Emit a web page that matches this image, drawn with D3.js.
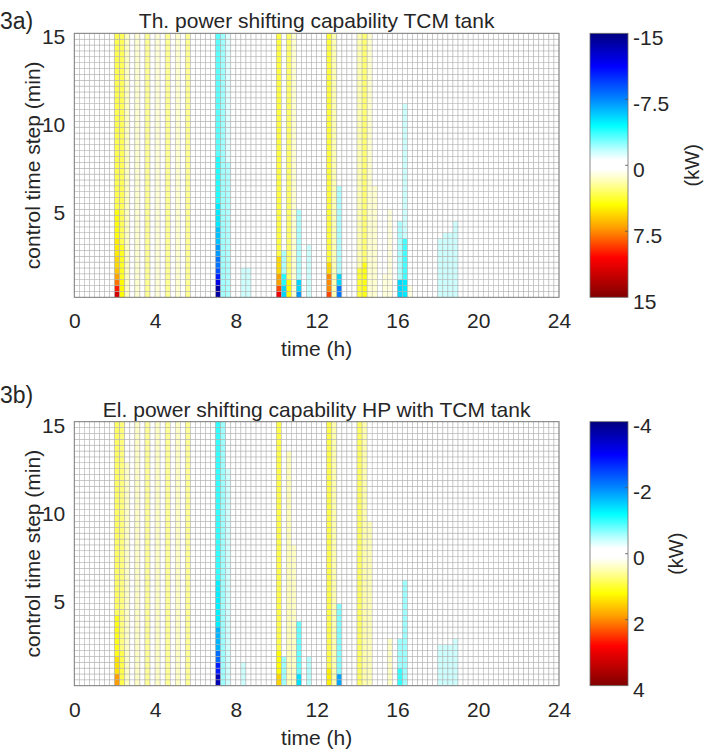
<!DOCTYPE html>
<html>
<head>
<meta charset="utf-8">
<script src="https://cdn.jsdelivr.net/npm/d3@7"></script>
<style>
  body { margin: 0; background: #fff; }
  text { font-family: "Liberation Sans", Arial, sans-serif; fill: #262626; }
</style>
</head>
<body>
<svg id="chart" width="704" height="753"></svg>
<script>
"use strict";

// axes
const xTicks = [0, 4, 8, 12, 16, 20, 24];
const yTicks = [5, 10, 15];
const stepHours = 0.25;   // one column = 15 min
const stepMin = 1 / 3;    // one row = 20 s

// 3a) thermal power shifting capability (kW)
// one entry per strip: start hour, then [from min, to min, value] pieces
const thHours = [2, 2.25, 2.5, 3, 3.5, 4, 4.5, 5, 5.5, 7, 7.25, 7.5, 8.25, 8.5,
  10, 10.25, 10.5, 10.75, 11, 11.5, 12.5, 12.75, 13, 14, 14.25, 14.5, 14.75,
  15.25, 15.5, 16, 16.25, 16.5, 18, 18.25, 18.5, 18.75];
const thSegments = [
  [[0, 0.33, 12], [0.33, 0.67, 10], [0.67, 1, 8], [1, 1.33, 7], [1.33, 1.67, 6], [1.67, 2.33, 5.5], [2.33, 3.33, 5], [3.33, 5, 4.3], [5, 15, 3.3]],
  [[0, 1, 4.6], [1, 3, 4], [3, 15, 3.2]],
  [[0, 15, 1.6]],
  [[0, 15, 1.3]],
  [[0, 15, 2.3]],
  [[0, 15, 1.2]],
  [[0, 15, 2.3]],
  [[0, 15, 1.3]],
  [[0, 15, 2.3]],
  [[0, 0.67, -14], [0.67, 1, -12], [1, 1.33, -10.5], [1.33, 1.67, -9], [1.67, 2.33, -8], [2.33, 3, -7], [3, 4, -6], [4, 5.5, -5], [5.5, 8, -4], [8, 15, -3.2]],
  [[0, 15, -2.2]],
  [[0, 7.67, -2], [7.67, 15, -1.2]],
  [[0, 1.67, -1.5]],
  [[0, 1.67, -1.5]],
  [[0, 0.33, 11], [0.33, 0.67, 9], [0.67, 1.33, 7], [1.33, 2.33, 5.5], [2.33, 15, 3.5]],
  [[0, 0.67, -5.5], [0.67, 1.33, -4], [1.33, 2.67, -2]],
  [[0, 1, 4.6], [1, 15, 2.9]],
  [[0, 15, 1.3]],
  [[0, 0.33, -7], [0.33, 1, -5.5], [1, 5, -2]],
  [[0, 3, -1.5]],
  [[0, 0.33, 9], [0.33, 1.33, 7.5], [1.33, 2, 5.5], [2, 15, 3.6]],
  [[0, 15, 1.8]],
  [[0, 0.67, -8], [0.67, 1.33, -5.5], [1.33, 6.33, -2]],
  [[0, 1.67, 3.6], [1.67, 15, 1.8]],
  [[0, 2, 4.2], [2, 15, 2.8]],
  [[0, 15, 1.3]],
  [[0, 6.33, 1.3]],
  [[0, 1.33, 1.1]],
  [[0, 5, 1.1]],
  [[0, 1, -5.5], [1, 4.33, -2]],
  [[0, 1, -5], [1, 3.33, -3.5], [3.33, 11, -1.5]],
  [[0, 0.67, 1.1]],
  [[0, 3.33, -1.5]],
  [[0, 3.67, -1.5]],
  [[0, 3.67, -1.5]],
  [[0, 4.33, -1.5]]
];
const thTicks = [-15, -7.5, 0, 7.5, 15];

// 3b) electrical power shifting capability HP with TCM tank (kW)
const elHours = [2, 2.25, 2.5, 3, 3.5, 4, 4.5, 5, 5.5, 7, 7.25, 7.5, 8.25,
  10, 10.25, 10.5, 10.75, 11, 11.5, 12.5, 12.75, 13, 14, 14.25, 14.5,
  15.5, 16, 16.25, 18, 18.25, 18.5, 18.75];
const elSegments = [
  [[0, 0.67, 1.9], [0.67, 1.67, 1.4], [1.67, 4, 1.1], [4, 15, 0.8]],
  [[0, 2, 0.9], [2, 15, 0.7]],
  [[0, 12.67, 0.4]],
  [[0, 15, 0.4]],
  [[0, 15, 0.6]],
  [[0, 15, 0.4]],
  [[0, 15, 0.6]],
  [[0, 15, 0.4]],
  [[0, 15, 0.6]],
  [[0, 0.67, -3.6], [0.67, 1.33, -2.8], [1.33, 2, -2.2], [2, 3.33, -1.7], [3.33, 6, -1.3], [6, 15, -1.0]],
  [[0, 15, -0.6]],
  [[0, 12.33, -0.4]],
  [[0, 1.33, -0.4]],
  [[0, 0.67, 1.5], [0.67, 2, 1.2], [2, 15, 0.9]],
  [[0, 1.67, -0.6]],
  [[0, 13.33, 0.45]],
  [[0, 8, 0.4]],
  [[0, 0.67, -1.4], [0.67, 3.67, -0.8]],
  [[0, 1.67, -0.5]],
  [[0, 1, 1.3], [1, 15, 0.9]],
  [[0, 15, 0.5]],
  [[0, 0.67, -1.8], [0.67, 4.67, -0.7]],
  [[0, 15, 0.8]],
  [[0, 15, 0.5]],
  [[0, 9.33, 0.45]],
  [[0, 2.67, 0.4]],
  [[0, 1, -1.0], [1, 2.67, -0.6]],
  [[0, 6, -0.6]],
  [[0, 2.33, -0.4]],
  [[0, 2.33, -0.4]],
  [[0, 2.33, -0.4]],
  [[0, 2.67, -0.4]]
];
const elTicks = [-4, -2, 0, 2, 4];

// white-centred jet-like map, position in [-1, 1]
const cmapPos = [-1, -0.75, -0.5, -0.3, -0.12, -0.04, 0.03, 0.12, 0.3, 0.47, 0.7, 1];
const cmapCol = ["#00007f", "#0000ff", "#0087ff", "#00ffff", "#bcffff", "#ffffff",
  "#ffffff", "#ffffb4", "#ffff00", "#ffa000", "#ff0000", "#800000"];

const svg = d3.select("#chart");
const plotX = 74.3, plotW = 484.7, plotH = 264;
const barX = 590, barW = 38;

const panels = [
  {label: "3a)", labelY: 29, title: "Th. power shifting capability TCM tank",
   top: 33.3, hours: thHours, segs: thSegments, ticks: thTicks, unitX: 699},
  {label: "3b)", labelY: 403, title: "El. power shifting capability HP with TCM tank",
   top: 421.7, hours: elHours, segs: elSegments, ticks: elTicks, unitX: 683}
];

const defs = svg.append("defs");

panels.forEach((p, k) => {
  const max = d3.max(p.ticks);
  const color = d3.scaleLinear().domain(cmapPos.map(t => t * max)).range(cmapCol)
    .clamp(true);
  const x = d3.scaleLinear().domain([0, 24]).range([plotX, plotX + plotW]);
  const y = d3.scaleLinear().domain([0, 15]).range([p.top + plotH, p.top]);
  const g = svg.append("g");

  // heat map cells
  const lookup = new Map(p.hours.map((h, i) => [h, p.segs[i]]));
  const cells = [];
  for (let c = 0; c < 24 / stepHours; c++) {
    for (let r = 0; r < Math.round(15 / stepMin); r++) {
      const h0 = c * stepHours, m0 = r * stepMin, mid = m0 + stepMin / 2;
      const s = (lookup.get(h0) || []).find(s => mid >= s[0] && mid < s[1]);
      cells.push({h0, m0, v: s ? s[2] : 0});
    }
  }
  g.selectAll("rect.cell").data(cells).join("rect")
    .attr("class", "cell")
    .attr("x", d => x(d.h0))
    .attr("y", d => y(d.m0 + stepMin))
    .attr("width", x(stepHours) - x(0))
    .attr("height", y(0) - y(stepMin))
    .attr("fill", d => color(d.v))
    .attr("stroke", "#adadad")
    .attr("stroke-width", 0.5);

  g.append("rect")
    .attr("x", plotX).attr("y", p.top).attr("width", plotW).attr("height", plotH)
    .attr("fill", "none").attr("stroke", "#7f7f7f").attr("stroke-width", 1);

  // axes
  const ax = g.append("g").attr("transform", `translate(0,${p.top + plotH})`)
    .call(d3.axisBottom(x).tickValues(xTicks).tickSize(0).tickPadding(16));
  const ay = g.append("g").attr("transform", `translate(${plotX},0)`)
    .call(d3.axisLeft(y).tickValues(yTicks).tickSize(0).tickPadding(9));
  [ax, ay].forEach(a => {
    a.select(".domain").remove();
    a.selectAll("text").attr("font-size", 21)
      .attr("font-family", "Liberation Sans, Arial, sans-serif").attr("fill", "#262626");
  });
  ay.selectAll("text").attr("dy", "0.5em");

  g.append("text").attr("x", plotX + plotW / 2).attr("y", p.top + plotH + 59)
    .attr("text-anchor", "middle").attr("font-size", 21).text("time (h)");
  g.append("text").attr("transform", `translate(40,${p.top + plotH / 2}) rotate(-90)`)
    .attr("text-anchor", "middle").attr("font-size", 21).text("control time step (min)");
  g.append("text").attr("x", plotX + plotW / 2).attr("y", p.top - 5)
    .attr("text-anchor", "middle").attr("font-size", 21).text(p.title);
  g.append("text").attr("x", 0).attr("y", p.labelY)
    .attr("font-size", 23).text(p.label);

  // colour bar
  const grad = defs.append("linearGradient").attr("id", "cb" + k)
    .attr("x1", 0).attr("y1", 0).attr("x2", 0).attr("y2", 1);
  grad.selectAll("stop").data(cmapPos).join("stop")
    .attr("offset", t => (t + 1) / 2)
    .attr("stop-color", (t, i) => cmapCol[i]);
  const cy = d3.scaleLinear().domain([-max, max]).range([p.top, p.top + plotH]);
  g.append("rect").attr("x", barX).attr("y", p.top).attr("width", barW).attr("height", plotH)
    .attr("fill", `url(#cb${k})`).attr("stroke", "#6e6e6e").attr("stroke-width", 0.8);
  g.selectAll("line.cbt").data(p.ticks.slice(1, -1)).join("line")
    .attr("x1", barX + barW - 3).attr("x2", barX + barW)
    .attr("y1", d => cy(d)).attr("y2", d => cy(d))
    .attr("stroke", "#555").attr("stroke-width", 0.8);
  g.selectAll("text.cbl").data(p.ticks).join("text")
    .attr("class", "cbl")
    .attr("x", barX + barW + 5).attr("y", d => cy(d)).attr("dy", "0.55em")
    .attr("font-size", 21).text(d => d);
  g.append("text").attr("transform", `translate(${p.unitX},${p.top + plotH / 2}) rotate(-90)`)
    .attr("text-anchor", "middle").attr("font-size", 20).text("(kW)");
});
</script>
</body>
</html>
